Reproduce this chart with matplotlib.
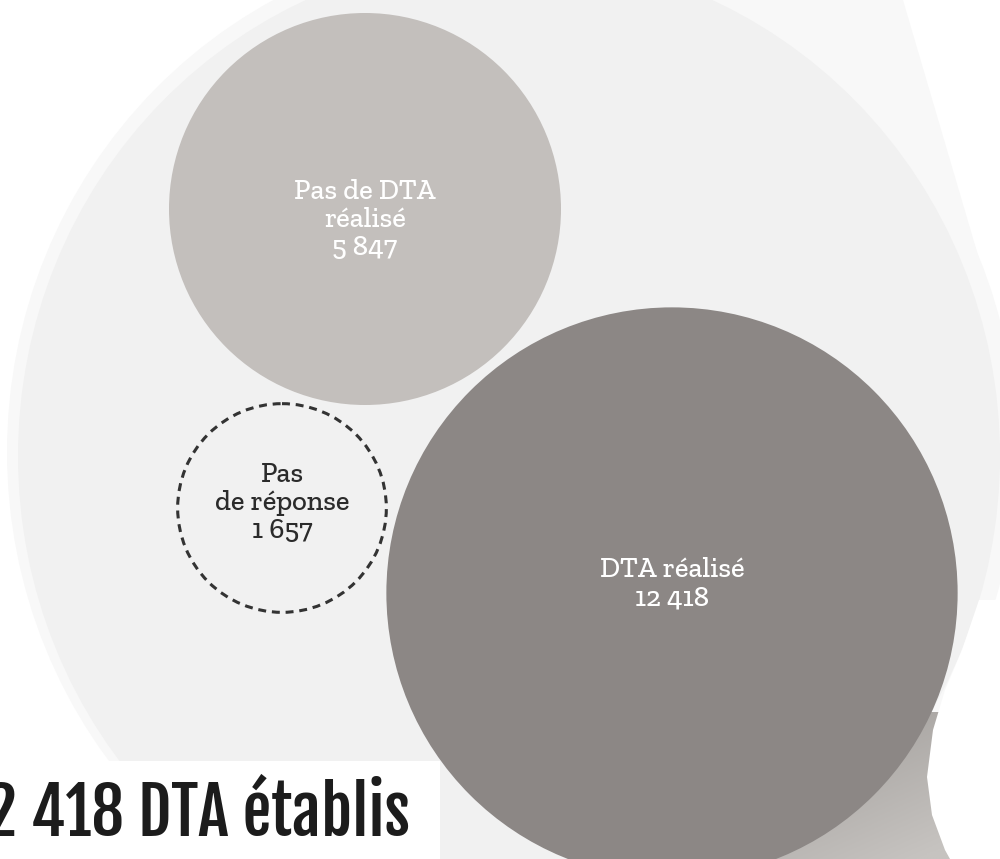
import matplotlib
matplotlib.use("Agg")
import numpy as np
import matplotlib.pyplot as plt
from matplotlib.patches import Circle, Ellipse, Polygon, Rectangle
from matplotlib.colors import LinearSegmentedColormap

# ---- data ----
categories = ["Pas de DTA\nréalisé", "DTA réalisé", "Pas\nde réponse"]
values = [5847, 12418, 1657]
title_suffix = "DTA établis"

def fmt(v):
    return f"{v:,}".replace(",", " ")

# ---- layout / style ----
W, H = 1000, 859
px_per_sqrt = 196 / np.sqrt(5847)            # area-proportional bubble scale
centers = [(365, 209), (672, 593), (282, 508)]
label_pos = [(365, 220), (672, 584), (282, 503)]
fills = ["#c3bfbc", "#8c8785", "none"]
text_colors = ["white", "white", "#2b2b2b"]
serif = ["Zilla Slab", "Roboto Slab", "Bitter", "DejaVu Serif"]

fig = plt.figure(figsize=(W / 100, H / 100), dpi=100, facecolor="white")
ax = fig.add_axes([0, 0, 1, 1])
ax.set_xlim(0, W)
ax.set_ylim(H, 0)
ax.set_aspect("equal")
ax.axis("off")

# background blob with soft halo
ax.add_patch(Polygon([(700, 0), (903, 0), (1000, 330), (1000, 470), (700, 470)],
                     closed=True, facecolor="#f8f8f8", edgecolor="none", zorder=0))
ax.add_patch(Ellipse((512, 452), 1010, 1026, facecolor="#f8f8f8", edgecolor="none", zorder=0.5))
ax.add_patch(Ellipse((509, 456), 982, 1002, facecolor="#f1f1f1", edgecolor="none", zorder=1))

# gradient tail below the big bubble
gx = np.linspace(0, 1, 200)
gy = np.linspace(0, 1, 120)
GX, GY = np.meshgrid(gx, gy)
grad = np.clip(0.55 * GX + 0.6 * GY, 0, 1)
cmap = LinearSegmentedColormap.from_list("tail", ["#9a9693", "#c6c3c0"])
ax.imshow(grad, extent=[700, 1000, 859, 712], cmap=cmap, origin="upper",
          interpolation="bilinear", zorder=2, aspect="auto")
ax.set_xlim(0, W)
ax.set_ylim(H, 0)

# white cut-out to the right of the tail
ax.add_patch(Polygon([(1000, 600), (979, 600), (962, 650), (945, 690), (933, 730),
                      (927, 777), (932, 815), (945, 850), (950, 859), (1000, 859)],
                     closed=True, facecolor="white", edgecolor="none", zorder=3))

# bubbles
for cat, v, c, lp, fc, tc in zip(categories, values, centers, label_pos, fills, text_colors):
    r = px_per_sqrt * np.sqrt(v)
    if fc == "none":
        ax.add_patch(Circle(c, r, facecolor="none", edgecolor="#333333",
                            linewidth=2.2, linestyle=(0, (2.6, 1.9)), zorder=4))
    else:
        ax.add_patch(Circle(c, r, facecolor=fc, edgecolor="none", zorder=4))
    ax.text(lp[0], lp[1], f"{cat}\n{fmt(v)}", ha="center", va="center",
            color=tc, fontsize=20.5, family=serif, fontweight="medium",
            linespacing=1.12, zorder=5)

# title box
ax.add_patch(Rectangle((0, 761), 440, 98, facecolor="white", edgecolor="none", zorder=6))
ax.text(410, 836, f"{fmt(values[1])} {title_suffix}", ha="right", va="baseline",
        color="#1c1c1c", fontsize=46.5,
        family=["Fjalla One", "Antonio", "Oswald", "PT Sans Narrow", "DejaVu Sans"],
        fontweight="bold", zorder=7)

fig.savefig("out.png", dpi=100, facecolor="white")
